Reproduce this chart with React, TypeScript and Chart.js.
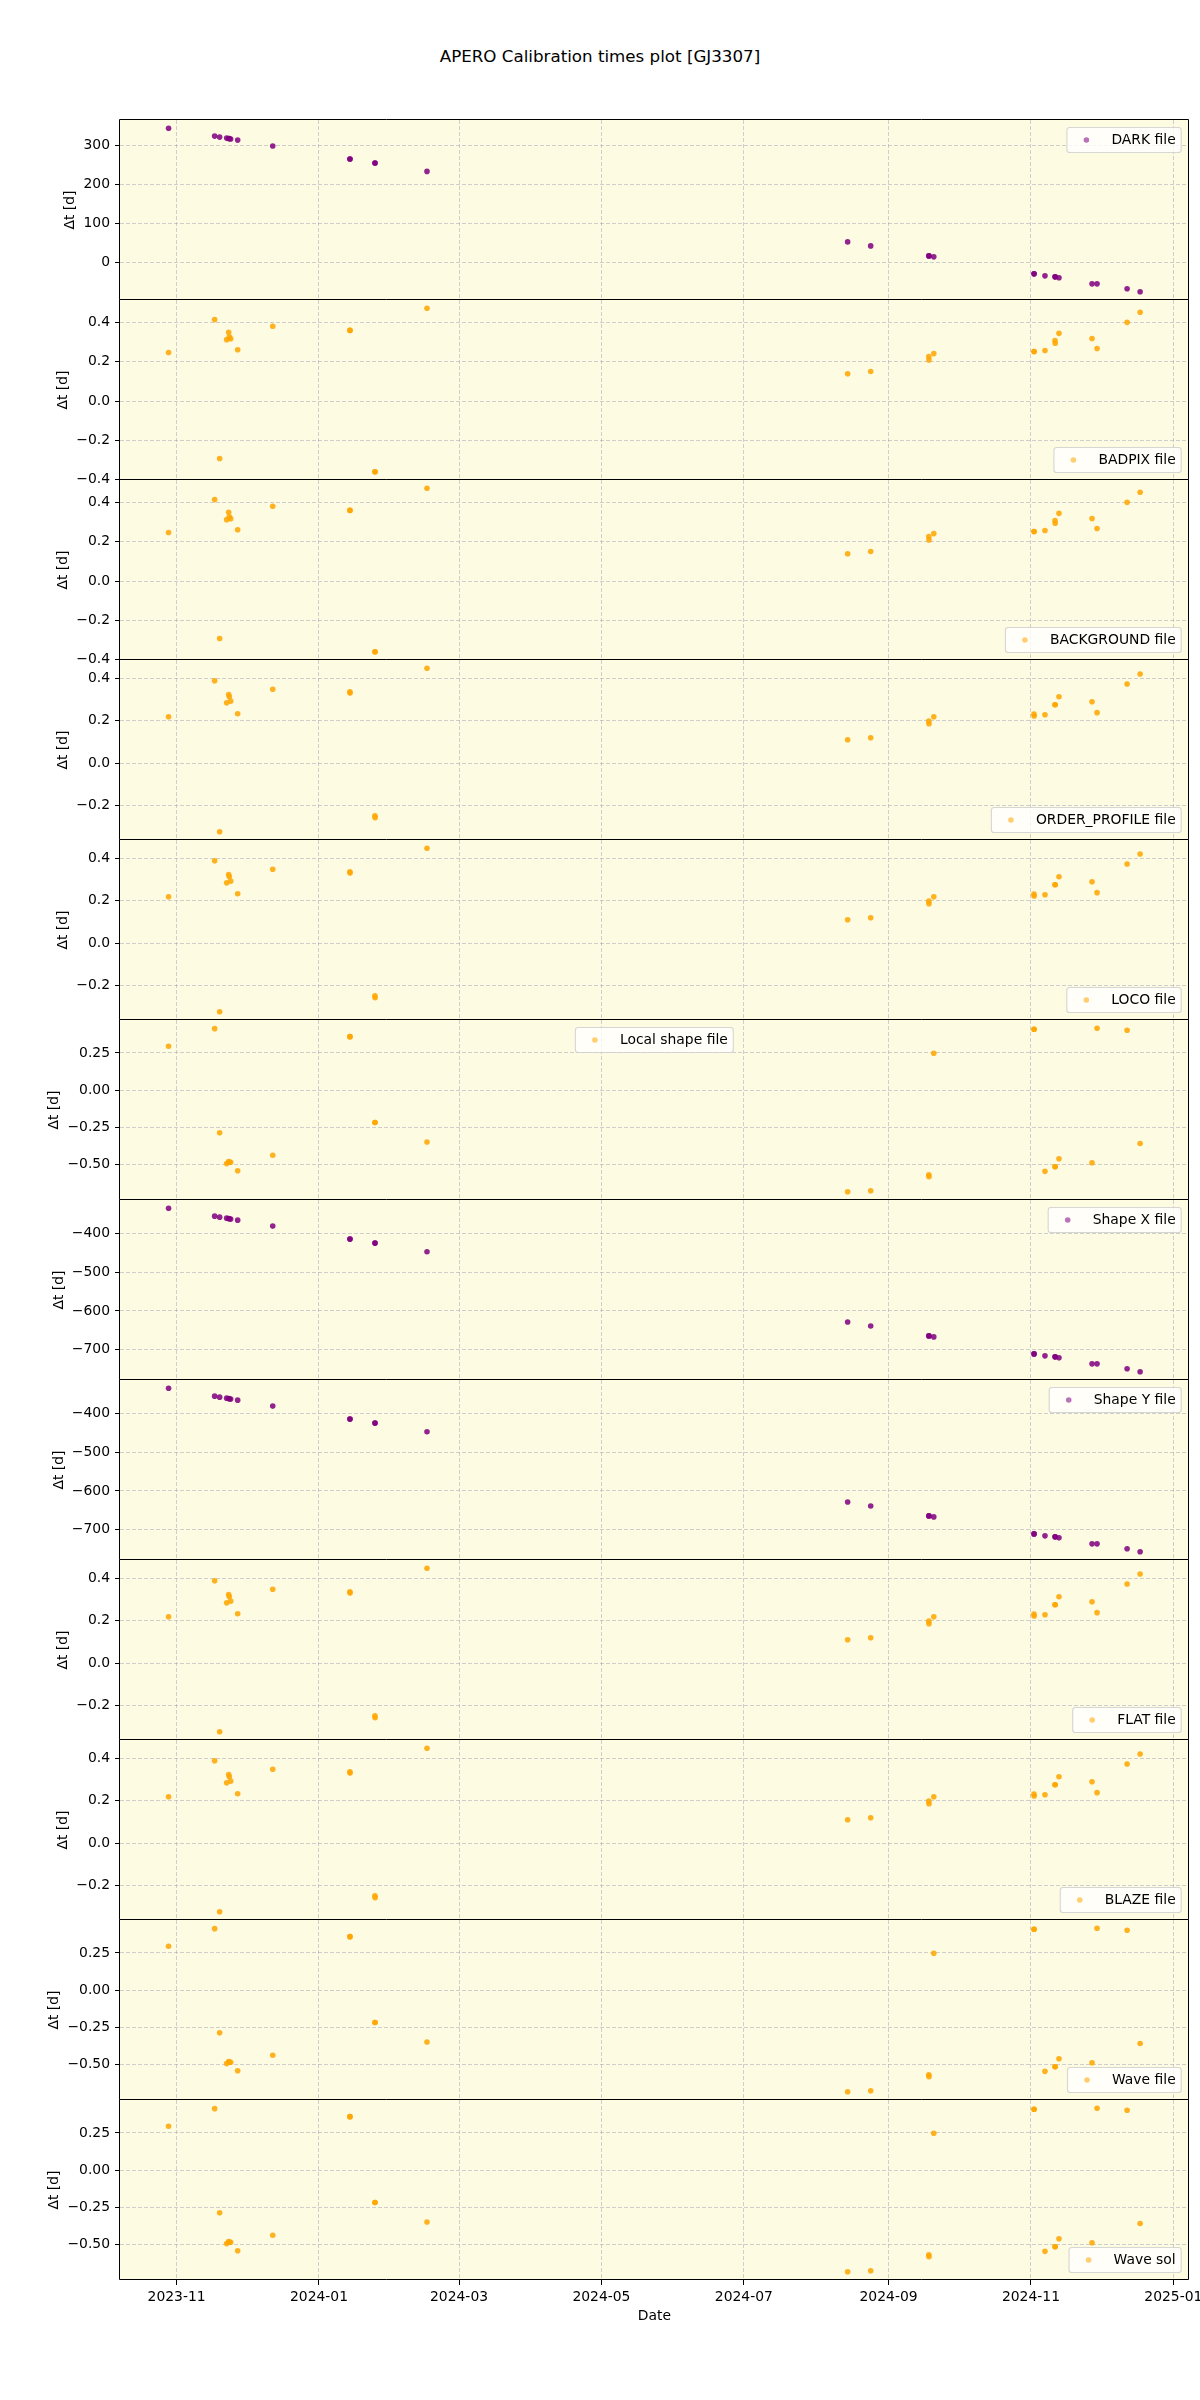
import React, { useEffect, useRef } from 'react';
import { Chart, registerables } from 'chart.js';

Chart.register(...registerables);

// ---------------- data ----------------
const OBS_DATES = [
  '2023-10-28T13:40:00Z', '2023-11-17T07:12:00Z', '2023-11-19T10:48:00Z', '2023-11-22T10:48:00Z',
  '2023-11-23T07:26:00Z', '2023-11-23T14:00:00Z', '2023-11-24T04:05:00Z', '2023-11-27T04:05:00Z',
  '2023-12-12T04:34:00Z', '2024-01-14T05:31:00Z', '2024-01-14T07:31:00Z', '2024-01-24T23:02:00Z',
  '2024-01-25T01:02:00Z', '2024-02-16T06:29:00Z', '2024-08-14T11:31:00Z', '2024-08-24T08:24:00Z',
  '2024-09-18T05:46:00Z', '2024-09-18T07:46:00Z', '2024-09-20T09:07:00Z', '2024-11-02T07:00:00Z',
  '2024-11-02T09:00:00Z', '2024-11-07T00:14:00Z', '2024-11-11T07:12:00Z', '2024-11-11T09:12:00Z',
  '2024-11-13T00:14:00Z', '2024-11-27T04:05:00Z', '2024-11-29T07:41:00Z', '2024-12-12T04:34:00Z',
  '2024-12-17T18:29:00Z',
];

const DARK_DT = [343, 322.9, 320.3, 317.8, 316.9, 316.5, 315.3, 312.7, 297.5, 264.4, 264.4, 254.2, 254.2, 232.9,
  53.4, 43.2, 17.8, 17.8, 15.3, -28, -28, -33, -35.6, -35.6, -38, -53.4, -53.4, -66, -73.7];
const BADPIX_DT = [0.247, 0.414, -0.292, 0.312, 0.349, 0.326, 0.317, 0.261, 0.380, 0.359, 0.359, -0.360, -0.360, 0.472,
  0.139, 0.150, 0.226, 0.209, 0.241, 0.252, 0.252, 0.257, 0.308, 0.294, 0.344, 0.318, 0.267, 0.400, 0.451];
const BACKGROUND_DT = [0.247, 0.414, -0.292, 0.312, 0.349, 0.326, 0.317, 0.261, 0.380, 0.359, 0.359, -0.360, -0.360, 0.472,
  0.139, 0.150, 0.226, 0.209, 0.241, 0.252, 0.252, 0.257, 0.308, 0.294, 0.344, 0.318, 0.267, 0.400, 0.451];
const ORDER_PROFILE_DT = [0.219, 0.388, -0.322, 0.284, 0.323, 0.313, 0.292, 0.233, 0.348, 0.336, 0.330, -0.247, -0.256, 0.447,
  0.111, 0.120, 0.198, 0.186, 0.219, 0.231, 0.222, 0.228, 0.275, 0.275, 0.313, 0.289, 0.238, 0.373, 0.420];
const LOCO_DT = [0.219, 0.388, -0.322, 0.284, 0.323, 0.313, 0.292, 0.233, 0.348, 0.336, 0.330, -0.247, -0.256, 0.447,
  0.111, 0.120, 0.198, 0.186, 0.219, 0.231, 0.222, 0.228, 0.275, 0.275, 0.313, 0.289, 0.238, 0.373, 0.420];
const LOCAL_SHAPE_DT = [0.295, 0.414, -0.288, -0.495, -0.482, -0.484, -0.486, -0.543, -0.439, 0.360, 0.360, -0.218, -0.218, -0.349,
  -0.685, -0.678, -0.570, -0.583, 0.248, 0.410, 0.410, -0.547, -0.516, -0.516, -0.462, -0.489, 0.417, 0.403, -0.360];
const SHAPE_X_DT = [-335.9, -356.4, -359.0, -361.5, -362.4, -363.0, -364.0, -366.7, -382.0, -415.4, -415.4, -425.6, -425.6, -448.0,
  -628.2, -638.5, -664.1, -664.1, -666.7, -710.3, -710.3, -715.4, -718.0, -718.0, -720.5, -735.9, -735.9, -748.7, -756.4];
const SHAPE_Y_DT = [-335.9, -356.4, -359.0, -361.5, -362.4, -363.0, -364.0, -366.7, -382.0, -415.4, -415.4, -425.6, -425.6, -448.0,
  -628.2, -638.5, -664.1, -664.1, -666.7, -710.3, -710.3, -715.4, -718.0, -718.0, -720.5, -735.9, -735.9, -748.7, -756.4];
const FLAT_DT = [0.219, 0.388, -0.322, 0.284, 0.323, 0.313, 0.292, 0.233, 0.348, 0.336, 0.330, -0.247, -0.256, 0.447,
  0.111, 0.120, 0.198, 0.186, 0.219, 0.231, 0.222, 0.228, 0.275, 0.275, 0.313, 0.289, 0.238, 0.373, 0.420];
const BLAZE_DT = [0.219, 0.388, -0.322, 0.284, 0.323, 0.313, 0.292, 0.233, 0.348, 0.336, 0.330, -0.247, -0.256, 0.447,
  0.111, 0.120, 0.198, 0.186, 0.219, 0.231, 0.222, 0.228, 0.275, 0.275, 0.313, 0.289, 0.238, 0.373, 0.420];
const WAVE_FILE_DT = [0.295, 0.414, -0.288, -0.495, -0.482, -0.484, -0.486, -0.543, -0.439, 0.360, 0.360, -0.218, -0.218, -0.349,
  -0.685, -0.678, -0.570, -0.583, 0.248, 0.410, 0.410, -0.547, -0.516, -0.516, -0.462, -0.489, 0.417, 0.403, -0.360];
const WAVE_SOL_DT = [0.295, 0.414, -0.288, -0.495, -0.482, -0.484, -0.486, -0.543, -0.439, 0.360, 0.360, -0.218, -0.218, -0.349,
  -0.685, -0.678, -0.570, -0.583, 0.248, 0.410, 0.410, -0.547, -0.516, -0.516, -0.462, -0.489, 0.417, 0.403, -0.360];

const DARK_TICKS = [0, 100, 200, 300];
const BADPIX_TICKS = [-0.4, -0.2, 0, 0.2, 0.4];
const ORDER_TICKS = [-0.2, 0, 0.2, 0.4];
const LOCAL_TICKS = [-0.5, -0.25, 0, 0.25];
const SHAPE_TICKS = [-700, -600, -500, -400];
const X_TICK_LABELS = ['2023-11', '2024-01', '2024-03', '2024-05', '2024-07', '2024-09', '2024-11', '2025-01'];

const TITLE = 'APERO Calibration times plot [GJ3307]';
const X_LABEL = 'Date';
const Y_LABEL = 'Δt [d]';

const PURPLE = { pt: 'rgba(128,0,128,0.86)', leg: 'rgba(128,0,128,0.55)' };
const ORANGE = { pt: 'rgba(255,165,0,0.86)', leg: 'rgba(255,165,0,0.55)' };

type Panel = { label: string; values: number[]; col: { pt: string; leg: string }; loc: string; ticks: number[]; dec: number };

const PANELS: Panel[] = [
  { label: 'DARK file', values: DARK_DT, col: PURPLE, loc: 'upper right', ticks: DARK_TICKS, dec: 0 },
  { label: 'BADPIX file', values: BADPIX_DT, col: ORANGE, loc: 'lower right', ticks: BADPIX_TICKS, dec: 1 },
  { label: 'BACKGROUND file', values: BACKGROUND_DT, col: ORANGE, loc: 'lower right', ticks: BADPIX_TICKS, dec: 1 },
  { label: 'ORDER_PROFILE file', values: ORDER_PROFILE_DT, col: ORANGE, loc: 'lower right', ticks: ORDER_TICKS, dec: 1 },
  { label: 'LOCO file', values: LOCO_DT, col: ORANGE, loc: 'lower right', ticks: ORDER_TICKS, dec: 1 },
  { label: 'Local shape file', values: LOCAL_SHAPE_DT, col: ORANGE, loc: 'upper center', ticks: LOCAL_TICKS, dec: 2 },
  { label: 'Shape X file', values: SHAPE_X_DT, col: PURPLE, loc: 'upper right', ticks: SHAPE_TICKS, dec: 0 },
  { label: 'Shape Y file', values: SHAPE_Y_DT, col: PURPLE, loc: 'upper right', ticks: SHAPE_TICKS, dec: 0 },
  { label: 'FLAT file', values: FLAT_DT, col: ORANGE, loc: 'lower right', ticks: ORDER_TICKS, dec: 1 },
  { label: 'BLAZE file', values: BLAZE_DT, col: ORANGE, loc: 'lower right', ticks: ORDER_TICKS, dec: 1 },
  { label: 'Wave file', values: WAVE_FILE_DT, col: ORANGE, loc: 'lower right', ticks: LOCAL_TICKS, dec: 2 },
  { label: 'Wave sol', values: WAVE_SOL_DT, col: ORANGE, loc: 'lower right', ticks: LOCAL_TICKS, dec: 2 },
];

// ---------------- layout / style ----------------
const FONT = '"DejaVu Sans", "Liberation Sans", sans-serif';
const FS = 13.9;
const AX_LEFT = 120;
const AX_RIGHT = 1188.7;
const AX_TOP = 120;
const PANEL_H = 180;
const PAD = 10;
const LAST_EXTRA = 40;
const BG = 'rgb(253,251,226)';
const GRID = 'rgba(170,170,185,0.55)';

const X_TIMES = OBS_DATES.map((d) => Date.parse(d));
const X_TICK_VALUES = X_TICK_LABELS.map((l) => Date.parse(l + '-01T00:00:00Z'));
const xLo = Math.min(...X_TIMES);
const xHi = Math.max(...X_TIMES);
const X_MIN = xLo - (xHi - xLo) * 0.05;
const X_MAX = xHi + (xHi - xLo) * 0.05;

const fmtTick = (v: number, dec: number) => (v < -1e-9 ? '\u2212' : '') + Math.abs(v).toFixed(dec);
const snap = (v: number) => Math.round(v) + 0.5;

function roundRectPath(ctx: CanvasRenderingContext2D, x: number, y: number, w: number, h: number, r: number) {
  ctx.beginPath();
  ctx.moveTo(x + r, y);
  ctx.lineTo(x + w - r, y);
  ctx.arcTo(x + w, y, x + w, y + r, r);
  ctx.lineTo(x + w, y + h - r);
  ctx.arcTo(x + w, y + h, x + w - r, y + h, r);
  ctx.lineTo(x + r, y + h);
  ctx.arcTo(x, y + h, x, y + h - r, r);
  ctx.lineTo(x, y + r);
  ctx.arcTo(x, y, x + r, y, r);
  ctx.closePath();
}

function PanelChart({ panel, index, isLast }: { panel: Panel; index: number; isLast: boolean }) {
  const ref = useRef<HTMLCanvasElement>(null);
  const h = PAD + PANEL_H + (isLast ? LAST_EXTRA : PAD);
  const top = AX_TOP + index * PANEL_H - PAD;

  useEffect(() => {
    if (!ref.current) return;
    const vals = panel.values;
    const lo = Math.min(...vals);
    const hi = Math.max(...vals);
    const yMin = lo - (hi - lo) * 0.05;
    const yMax = hi + (hi - lo) * 0.05;

    const deco = {
      id: 'deco' + index,
      beforeDraw(chart: any) {
        const { ctx, chartArea: a } = chart;
        ctx.save();
        ctx.fillStyle = BG;
        ctx.fillRect(a.left, a.top, a.right - a.left, a.bottom - a.top);
        ctx.restore();
      },
      afterDraw(chart: any) {
        const { ctx, chartArea: a } = chart;
        ctx.save();
        // frame: crisp 1px lines; shared edges drawn once
        const L = snap(a.left - 1);
        const R = snap(a.right - 1);
        const T = snap(a.top - 1);
        const B = snap(a.bottom - 1);
        ctx.strokeStyle = '#000';
        ctx.lineWidth = 1;
        ctx.beginPath();
        ctx.moveTo(L, B);
        ctx.lineTo(L, T);
        ctx.lineTo(R, T);
        ctx.lineTo(R, B);
        if (isLast) ctx.lineTo(L, B);
        ctx.stroke();
        // y label
        ctx.font = `${FS}px ${FONT}`;
        let maxW = 0;
        for (const t of panel.ticks) maxW = Math.max(maxW, ctx.measureText(fmtTick(t, panel.dec)).width);
        const labelLeft = a.left - 10 - maxW;
        ctx.save();
        ctx.translate(labelLeft - 9, (a.top + a.bottom) / 2);
        ctx.rotate(-Math.PI / 2);
        ctx.fillStyle = '#000';
        ctx.textAlign = 'center';
        ctx.textBaseline = 'alphabetic';
        ctx.fillText(Y_LABEL, 0, 0);
        ctx.restore();
        // legend
        const tw = ctx.measureText(panel.label).width;
        const w = tw + 50;
        const bh = 25;
        let x: number;
        let y: number;
        if (panel.loc === 'upper right') {
          x = a.right - 7.5 - w;
          y = a.top + 7.5;
        } else if (panel.loc === 'lower right') {
          x = a.right - 7.5 - w;
          y = a.bottom - 7.5 - bh;
        } else {
          x = (a.left + a.right) / 2 - w / 2;
          y = a.top + 7.5;
        }
        roundRectPath(ctx, x, y, w, bh, 2.8);
        ctx.fillStyle = 'rgba(255,255,255,0.8)';
        ctx.fill();
        ctx.strokeStyle = 'rgba(204,204,204,0.8)';
        ctx.lineWidth = 1.1;
        ctx.stroke();
        ctx.beginPath();
        ctx.arc(x + 19.5, y + bh / 2, 2.8, 0, Math.PI * 2);
        ctx.fillStyle = panel.col.leg;
        ctx.fill();
        ctx.fillStyle = '#000';
        ctx.textAlign = 'left';
        ctx.textBaseline = 'middle';
        ctx.fillText(panel.label, x + 44.5, y + bh / 2 + 0.5);
        ctx.restore();
      },
    };

    const chart = new Chart(ref.current, {
      type: 'scatter',
      data: {
        datasets: [
          {
            label: panel.label,
            data: X_TIMES.map((t, i) => ({ x: t, y: vals[i] })),
            pointRadius: 2.8,
            pointHoverRadius: 2.8,
            pointBackgroundColor: panel.col.pt,
            pointBorderWidth: 0,
            borderWidth: 0,
          },
        ],
      },
      options: {
        responsive: false,
        animation: false,
        events: [],
        layout: { padding: { left: 0, right: 1200 - AX_RIGHT, top: PAD, bottom: isLast ? 0 : PAD } },
        plugins: { legend: { display: false }, tooltip: { enabled: false }, title: { display: false } },
        scales: {
          x: {
            type: 'linear',
            min: X_MIN,
            max: X_MAX,
            afterBuildTicks: (s: any) => {
              s.ticks = X_TICK_VALUES.map((v) => ({ value: v }));
            },
            afterFit: (s: any) => {
              s.height = isLast ? LAST_EXTRA : 0;
              s.paddingLeft = 0;
              s.paddingRight = 0;
            },
            ticks: {
              display: isLast,
              autoSkip: false,
              maxRotation: 0,
              minRotation: 0,
              padding: 4,
              color: '#000',
              font: { family: FONT, size: FS },
              callback: (v: any) => {
                const i = X_TICK_VALUES.indexOf(Number(v));
                return i >= 0 ? X_TICK_LABELS[i] : '';
              },
            },
            grid: {
              color: GRID,
              lineWidth: 1,
              drawTicks: isLast,
              tickLength: 5,
              tickColor: '#000',
              tickWidth: 1,
              tickBorderDash: [],
            },
            border: { display: false, dash: [4, 2] },
          },
          y: {
            type: 'linear',
            min: yMin,
            max: yMax,
            afterBuildTicks: (s: any) => {
              s.ticks = panel.ticks.map((v) => ({ value: v }));
            },
            afterFit: (s: any) => {
              s.width = AX_LEFT;
              s.paddingTop = 0;
              s.paddingBottom = 0;
            },
            ticks: {
              padding: 5,
              color: '#000',
              font: { family: FONT, size: FS },
              callback: (v: any) => fmtTick(Number(v), panel.dec),
            },
            grid: {
              color: GRID,
              lineWidth: 1,
              drawTicks: true,
              tickLength: 5,
              tickColor: '#000',
              tickWidth: 1,
              tickBorderDash: [],
            },
            border: { display: false, dash: [4, 2] },
          },
        },
      },
      plugins: [deco],
    } as any);
    return () => chart.destroy();
  }, []);

  return (
    <canvas
      ref={ref}
      width={1200}
      height={h}
      style={{ position: 'absolute', left: 0, top, width: 1200, height: h, display: 'block' }}
    />
  );
}

export default function App() {
  return (
    <div style={{ position: 'absolute', left: 0, top: 0, width: 1200, height: 2400, background: '#fff', fontFamily: FONT }}>
      <div
        style={{
          position: 'absolute',
          left: 0,
          top: 45,
          width: 1200,
          textAlign: 'center',
          fontSize: 16.7,
          lineHeight: '22px',
          color: '#000',
        }}
      >
        {TITLE}
      </div>
      {PANELS.map((p, i) => (
        <PanelChart key={i} panel={p} index={i} isLast={i === PANELS.length - 1} />
      ))}
      <div
        style={{
          position: 'absolute',
          left: AX_LEFT,
          top: 2305,
          width: AX_RIGHT - AX_LEFT,
          textAlign: 'center',
          fontSize: FS,
          lineHeight: '20px',
          color: '#000',
        }}
      >
        {X_LABEL}
      </div>
    </div>
  );
}
